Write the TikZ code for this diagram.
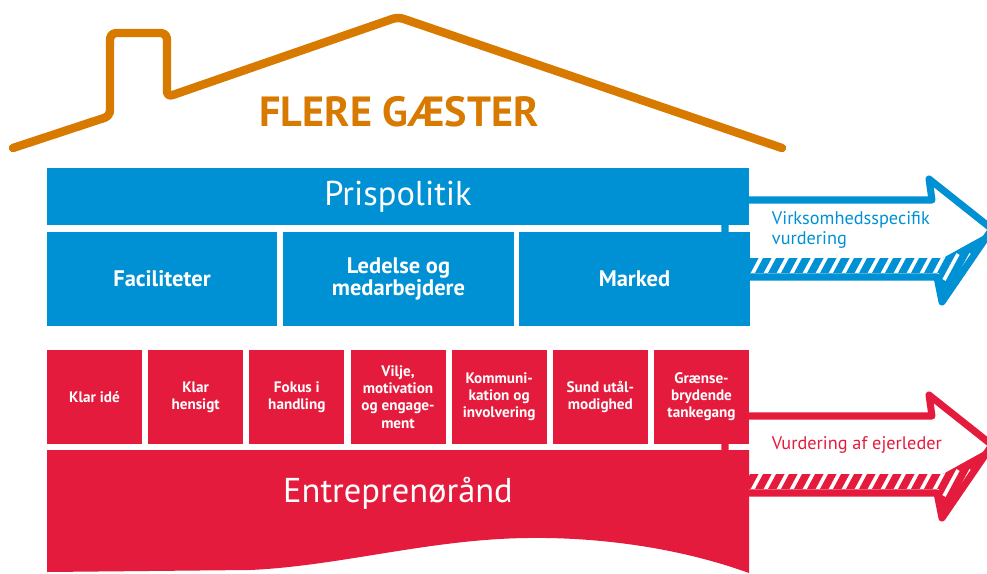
\documentclass[tikz,border=0pt]{standalone}
\usepackage{fontspec}
\setmainfont{PT Sans}
\usetikzlibrary{positioning}

\definecolor{husblaa}{RGB}{0,144,212}
\definecolor{husroed}{RGB}{228,27,60}
\definecolor{tagfarve}{RGB}{217,122,0}

\begin{document}
\begin{tikzpicture}[x=0.025cm,y=-0.025cm,
  blaa/.style={fill=husblaa,text=white,inner sep=0pt,minimum width=5.75cm,minimum height=2.35cm,align=center,font=\bfseries\fontsize{16}{15}\selectfont},
  rod/.style={fill=husroed,text=white,inner sep=0pt,minimum width=2.375cm,minimum height=2.35cm,align=center,font=\bfseries\fontsize{10.8}{12.2}\selectfont},
  stor/.style={text=white,font=\fontsize{24.5}{28}\selectfont},
  pil/.style={line width=5pt,line join=round},
  pilord/.style={anchor=west,align=left,font=\fontsize{13}{14}\selectfont}]
\useasboundingbox (0,0) rectangle (987,573);

% roof with chimney
\draw[tagfarve,line width=6pt,line cap=round,line join=round,rounded corners=4pt]
  (13,148) -- (110,116) -- (110,33) -- (167,33) -- (167,97) -- (398,17) -- (782,148);
\node[text=tagfarve,font=\bfseries\fontsize{30}{34}\selectfont] (titel) at (399,112) {FLERE GÆSTER};

% the two arrows, drawn first so the boxes cover their tails
\foreach \farve/\dy in {husblaa/0,husroed/216}{
  \begin{scope}[yshift=-\dy*0.025cm]
    \begin{scope}
      \clip (748,258) -- (943,258) -- (990,232) -- (944,300) -- (939,273) -- (748,273) -- cycle;
      \fill[\farve] (740,230) rectangle (1000,310);
      \foreach \s in {736,749,...,1000}
        \draw[white,line width=2.6pt] (\s,280) -- ++(14,-26);
    \end{scope}
    \draw[\farve,pil] (725,200) -- (932,200) -- (929,179) -- (992,229) -- (942,302)
      -- (937,277) -- (725,277) -- cycle;
  \end{scope}
}
\node[pilord,text=husblaa] (blaaord) at (767,230) {Virksomhedsspecifik\\vurdering};
\node[pilord,text=husroed] (rodord) at (767,445) {Vurdering af ejerleder};

% blue part
\node[fill=husblaa,minimum width=17.55cm,minimum height=1.425cm,inner sep=0pt] (pris) at (398,196.5) {};
\node[stor] at (pris) {Prispolitik};
\node[blaa] (facil) at (162,279) {Faciliteter};
\node[blaa] (ledelse) at (398.5,279) {Ledelse og\\medarbejdere};
\node[blaa] (marked) at (634.5,279) {Marked};

% red part
\foreach \t [count=\i] in {{Klar idé},{Klar\\hensigt},{Fokus i\\handling},{Vilje,\\motivation\\og engage-\\ment},{Kommuni-\\kation og\\involvering},{Sund utål-\\modighed},{Grænse-\\brydende\\tankegang}}
  \node[rod] (r\i) at ({94.5+101.17*(\i-1)},397) {\t};

\fill[husroed] (47,450) -- (749,450) -- (749,573)
  .. controls (680,548) and (600,537) .. (528,538)
  .. controls (430,539) and (340,566) .. (250,570)
  -- (47,572) -- cycle;
\node[stor] (entre) at (398,493) {Entreprenørånd};
\end{tikzpicture}
\end{document}
